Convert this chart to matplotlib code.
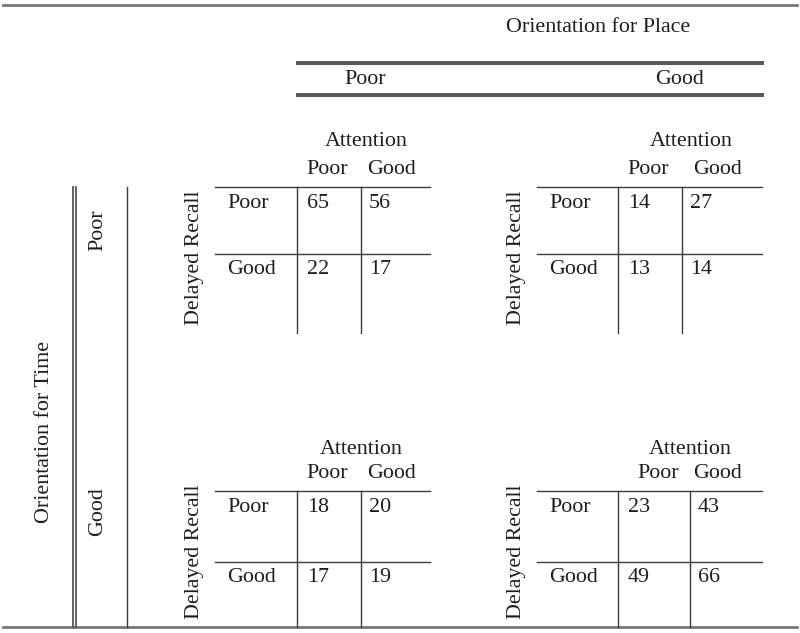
import matplotlib.pyplot as plt
from matplotlib import rcParams

# Factor labels
place_levels = ["Poor", "Good"]
time_levels = ["Poor", "Good"]
attention_levels = ["Poor", "Good"]
recall_levels = ["Poor", "Good"]

# Counts: rows = Delayed Recall (Poor, Good), cols = Attention (Poor, Good)
counts_tpoor_ppoor = [[65, 56], [22, 17]]
counts_tpoor_pgood = [[14, 27], [13, 14]]
counts_tgood_ppoor = [[18, 20], [17, 19]]
counts_tgood_pgood = [[23, 43], [49, 66]]

rcParams.update({"font.family": "Liberation Serif", "font.size": 15.8})
TXT = "#1e1e1e"
LN = "#3c3c3c"

fig = plt.figure(figsize=(8.0, 6.33), dpi=100)
ax = fig.add_axes([0, 0, 1, 1])
ax.set_xlim(0, 800)
ax.set_ylim(633, 0)
ax.axis("off")


def label(x, y, s, **kw):
    # small downward nudge so the visual centre matches the cap height
    ax.text(x, y + 2, s, va="center", color=TXT, **kw)


# outer rules
ax.plot([3, 797], [5, 5], color="#777777", lw=2)
ax.plot([3, 797], [627, 627], color="#777777", lw=2)

# Orientation for Place header
label(598, 25, "Orientation for Place", ha="center")
for y in (63, 95):
    ax.plot([297, 763], [y - 1.3, y - 1.3], color="#555555", lw=1.4)
    ax.plot([297, 763], [y + 1.3, y + 1.3], color="#555555", lw=1.4)
label(365, 78, place_levels[0], ha="center")
label(680, 78, place_levels[1], ha="center")

# Orientation for Time side header
ax.text(45, 432, "Orientation for Time", rotation=90, ha="center", va="center", color=TXT)
ax.plot([73, 73], [187, 627], color="#555555", lw=1.3)
ax.plot([76, 76], [187, 627], color="#555555", lw=1.3)
ax.plot([127, 127], [187, 627], color=LN, lw=1)
ax.text(98, 230, time_levels[0], rotation=90, ha="center", va="center", color=TXT)
ax.text(98, 512, time_levels[1], rotation=90, ha="center", va="center", color=TXT)

# panel layout:
# (counts, lx, c1, c2, rx, top, mid, bottom, att_x, col_x, att_y, col_y, dr_y)
panels = [
    (counts_tpoor_ppoor, 215, 297, 361, 430, 187, 254, 333, 366, (327, 392), 140, 168, 258),
    (counts_tpoor_pgood, 537, 618, 682, 762, 187, 254, 333, 691, (648, 718), 140, 168, 258),
    (counts_tgood_ppoor, 215, 297, 361, 430, 491, 562, 627, 361, (327, 392), 447, 472, 552),
    (counts_tgood_pgood, 537, 618, 690, 762, 491, 562, 627, 690, (658, 718), 447, 472, 552),
]

for counts, lx, c1, c2, rx, t, m, b, att_x, col_x, att_y, col_y, dr_y in panels:
    label(att_x, att_y, "Attention", ha="center")
    for lab, cx in zip(attention_levels, col_x):
        label(cx, col_y, lab, ha="center")
    ax.plot([lx, rx], [t, t], color=LN, lw=1)
    ax.plot([lx, rx], [m, m], color=LN, lw=1)
    ax.plot([c1, c1], [t, b], color=LN, lw=1)
    ax.plot([c2, c2], [t, b], color=LN, lw=1)
    ax.text(lx - 20, dr_y, "Delayed Recall", rotation=90,
            ha="center", va="center", color=TXT)
    for i, (lab, ry) in enumerate(zip(recall_levels, (t + 14, m + 13))):
        label(lx + 12, ry, lab, ha="left")
        label(c1 + 10, ry, str(counts[i][0]), ha="left")
        label(c2 + 8, ry, str(counts[i][1]), ha="left")

fig.savefig("out.png", dpi=100)
